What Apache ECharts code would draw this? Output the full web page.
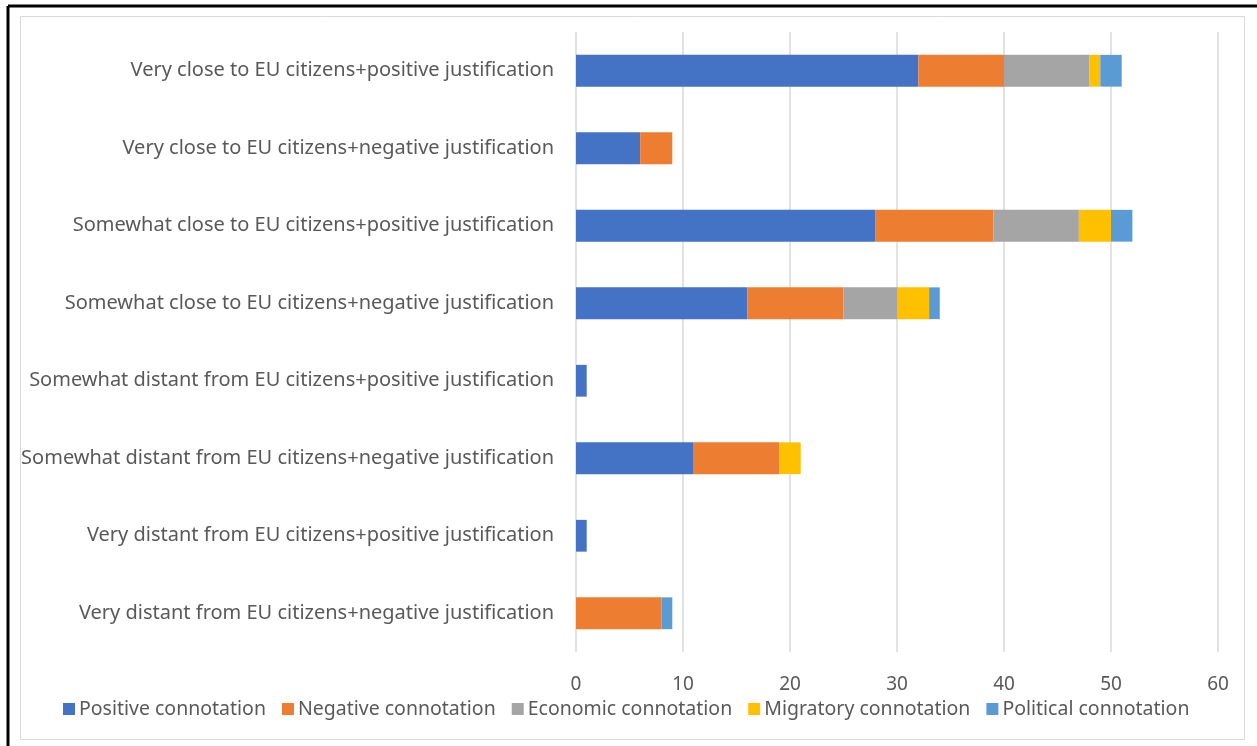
<!DOCTYPE html>
<html>
<head>
<meta charset="utf-8">
<script src="https://cdn.jsdelivr.net/npm/echarts@6/dist/echarts.min.js"></script>
<style>
  html, body { margin: 0; padding: 0; background: #ffffff; }
  #chart { width: 1257px; height: 746px; }
</style>
</head>
<body>
<div id="chart"></div>
<script>
// Categories, top to bottom
const categories = [
  'Very close to EU citizens+positive justification',
  'Very close to EU citizens+negative justification',
  'Somewhat close to EU citizens+positive justification',
  'Somewhat close to EU citizens+negative justification',
  'Somewhat distant from EU citizens+positive justification',
  'Somewhat distant from EU citizens+negative justification',
  'Very distant from EU citizens+positive justification',
  'Very distant from EU citizens+negative justification'
];

// Counts per connotation type
const positive  = [32, 6, 28, 16, 1, 11, 1, 0];
const negative  = [8, 3, 11, 9, 0, 8, 0, 8];
const economic  = [8, 0, 8, 5, 0, 0, 0, 0];
const migratory = [1, 0, 3, 3, 0, 2, 0, 0];
const political = [2, 0, 2, 1, 0, 0, 0, 1];

const seriesNames = [
  'Positive connotation',
  'Negative connotation',
  'Economic connotation',
  'Migratory connotation',
  'Political connotation'
];
const seriesData = [positive, negative, economic, migratory, political];
const colors = ['#4472C4', '#ED7D31', '#A5A5A5', '#FFC000', '#5B9BD5'];

const FONT = 'Noto Sans';
const TEXT = '#595959';

const chart = echarts.init(document.getElementById('chart'), null, { renderer: 'canvas' });

chart.setOption({
  animation: false,
  backgroundColor: '#ffffff',
  textStyle: { fontFamily: FONT },
  graphic: [
    // outer frame (left and top edges)
    { type: 'line', shape: { x1: 8, y1: 6, x2: 1257, y2: 6 }, style: { stroke: '#000', lineWidth: 3 } },
    { type: 'line', shape: { x1: 8, y1: 6, x2: 8, y2: 746 }, style: { stroke: '#000', lineWidth: 3 } },
    // chart area border
    { type: 'rect', shape: { x: 20.5, y: 16.5, width: 1224, height: 723 }, style: { fill: 'none', stroke: '#d9d9d9', lineWidth: 1 } }
  ],
  legend: {
    data: seriesNames,
    left: 58,
    top: 694,
    itemWidth: 12,
    itemHeight: 12,
    itemGap: 16,
    icon: 'rect',
    textStyle: { color: TEXT, fontSize: 19.5, fontFamily: FONT, padding: [0, 0, 0, -1] }
  },
  grid: { left: 576, right: 39, top: 32, bottom: 94, containLabel: false },
  xAxis: {
    type: 'value',
    min: 0,
    max: 60,
    interval: 10,
    axisLine: { show: false },
    axisTick: { show: false },
    splitLine: { lineStyle: { color: '#d9d9d9', width: 1.5 } },
    axisLabel: { color: TEXT, fontSize: 19, fontFamily: FONT, margin: 23 }
  },
  yAxis: {
    type: 'category',
    inverse: true,
    data: categories,
    axisLine: { show: false },
    axisTick: { show: false },
    axisLabel: { color: TEXT, fontSize: 20, fontFamily: FONT, margin: 22 }
  },
  series: seriesNames.map((name, i) => ({
    name: name,
    type: 'bar',
    stack: 'total',
    barCategoryGap: '59%',
    data: seriesData[i],
    itemStyle: { color: colors[i] }
  }))
});
</script>
</body>
</html>
